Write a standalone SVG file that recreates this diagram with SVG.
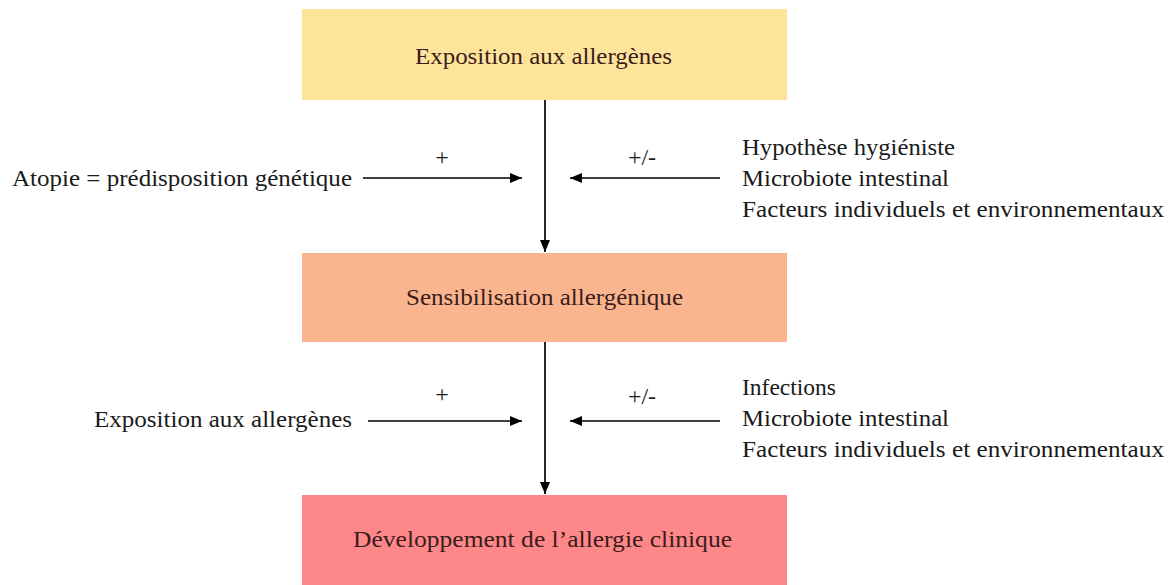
<svg xmlns="http://www.w3.org/2000/svg" width="1172" height="585" viewBox="0 0 1172 585" font-family="Liberation Serif">
<style>
text{font-family:"Liberation Serif","Times New Roman",serif;font-size:24px;fill:#1a1a1a}
.bt{fill:#3a1c1c}
.ln{stroke:#000;stroke-width:1.7;fill:none}
</style>
<defs>
<marker id="ah" viewBox="0 0 12 10" refX="12" refY="5" markerWidth="12" markerHeight="10" markerUnits="userSpaceOnUse" orient="auto">
<path d="M0,0 L12,5 L0,10 Z" fill="#000"/>
</marker>
</defs>
<rect width="1172" height="585" fill="#fff"/>
<g id="node-exposition">
<rect x="302" y="9" width="485" height="91" fill="#FEE49A"/>
<text class="bt" x="415" y="64" textLength="257" lengthAdjust="spacingAndGlyphs">Exposition aux allergènes</text>
</g>
<g id="node-sensibilisation">
<rect x="302" y="253" width="485" height="89" fill="#FBB58E"/>
<text class="bt" x="406" y="305" textLength="277" lengthAdjust="spacingAndGlyphs">Sensibilisation allergénique</text>
</g>
<g id="node-developpement">
<rect x="302" y="495" width="485" height="90" fill="#FE8889"/>
<text class="bt" x="353" y="547" textLength="379" lengthAdjust="spacingAndGlyphs">Développement de l’allergie clinique</text>
</g>
<g id="label-atopie">
<text x="12" y="186" textLength="340" lengthAdjust="spacingAndGlyphs">Atopie = prédisposition génétique</text>
</g>
<g id="label-facteurs-1">
<text x="742" y="155" textLength="213" lengthAdjust="spacingAndGlyphs">Hypothèse hygiéniste</text>
<text x="742" y="186" textLength="207" lengthAdjust="spacingAndGlyphs">Microbiote intestinal</text>
<text x="742" y="217" textLength="422" lengthAdjust="spacingAndGlyphs">Facteurs individuels et environnementaux</text>
</g>
<g id="label-exposition-2">
<text x="94" y="427" textLength="258" lengthAdjust="spacingAndGlyphs">Exposition aux allergènes</text>
</g>
<g id="label-facteurs-2">
<text x="742" y="395" textLength="94" lengthAdjust="spacingAndGlyphs">Infections</text>
<text x="742" y="426" textLength="207" lengthAdjust="spacingAndGlyphs">Microbiote intestinal</text>
<text x="742" y="457" textLength="422" lengthAdjust="spacingAndGlyphs">Facteurs individuels et environnementaux</text>
</g>
<g id="connectors">
<line class="ln" x1="545" y1="100" x2="545" y2="252" marker-end="url(#ah)"/>
<line class="ln" x1="545" y1="342" x2="545" y2="494" marker-end="url(#ah)"/>
<line class="ln" x1="363" y1="178" x2="522" y2="178" marker-end="url(#ah)"/>
<line class="ln" x1="720" y1="178" x2="570" y2="178" marker-end="url(#ah)"/>
<line class="ln" x1="368" y1="421" x2="522" y2="421" marker-end="url(#ah)"/>
<line class="ln" x1="720" y1="421" x2="570" y2="421" marker-end="url(#ah)"/>
<text x="442" y="165" text-anchor="middle">+</text>
<text x="642" y="165" text-anchor="middle">+/-</text>
<text x="442" y="402" text-anchor="middle">+</text>
<text x="642" y="404" text-anchor="middle">+/-</text>
</g>
</svg>
